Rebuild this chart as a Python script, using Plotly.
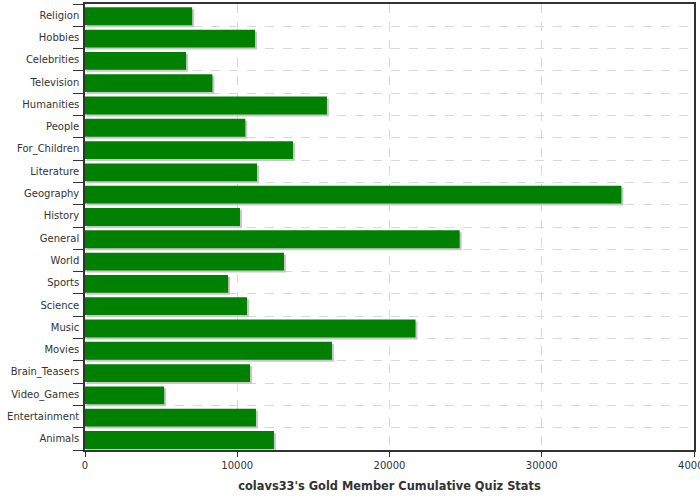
import plotly.graph_objects as go

categories = ["Religion", "Hobbies", "Celebrities", "Television", "Humanities", "People",
              "For_Children", "Literature", "Geography", "History", "General", "World",
              "Sports", "Science", "Music", "Movies", "Brain_Teasers", "Video_Games",
              "Entertainment", "Animals"]
values = [7040, 11170, 6640, 8370, 15890, 10530, 13660, 11300, 35230, 10180,
          24610, 13070, 9400, 10640, 21710, 16220, 10840, 5200, 11230, 12410]
x_ticks = [0, 10000, 20000, 30000, 40000]
chart_title = "colavs33's Gold Member Cumulative Quiz Stats"

# bottom-to-top order for plotly's y axis
cats = categories[::-1]
vals = values[::-1]

BAR_W = 0.8
BAR_SHIFT = 0.05          # bars sit slightly below the category centre
SHADOW_SHIFT_X = 130      # data units (~2px)
SHADOW_SHIFT_Y = 0.09     # category units (~2px)

fig = go.Figure()
fig.add_trace(go.Bar(
    y=cats, x=vals, base=SHADOW_SHIFT_X, orientation="h",
    width=BAR_W, offset=-BAR_W / 2 - BAR_SHIFT - SHADOW_SHIFT_Y,
    marker=dict(color="#c8c8c8", line=dict(width=0)),
    hoverinfo="skip", showlegend=False,
))
fig.add_trace(go.Bar(
    y=cats, x=vals, orientation="h",
    width=BAR_W, offset=-BAR_W / 2 - BAR_SHIFT,
    marker=dict(color="#008000", line=dict(width=0)),
    showlegend=False,
))

font_family = "DejaVu Sans, Verdana, sans-serif"
fig.update_layout(
    width=700, height=500,
    margin=dict(l=84.5, r=5.5, t=4, b=50, autoexpand=False),
    paper_bgcolor="white", plot_bgcolor="white",
    barmode="overlay",
    font=dict(family=font_family, size=10, color="#333333"),
    xaxis=dict(
        range=[0, 40000], tickvals=x_ticks, ticktext=[str(v) for v in x_ticks],
        ticklabeloverflow="allow", automargin=False,
        showgrid=True, gridcolor="#d3dadd", griddash="dash", gridwidth=1,
        showline=True, linecolor="#333333", linewidth=1.5, mirror=True,
        ticks="outside", ticklen=5, tickcolor="#333333",
        zeroline=False,
        title=dict(text="<b>" + chart_title + "</b>", font=dict(size=11.4, color="#333333"),
                   standoff=12),
    ),
    yaxis=dict(
        categoryorder="array", categoryarray=cats,
        range=[-0.5, len(cats) - 0.5],
        tickson="boundaries", automargin=False,
        showgrid=True, gridcolor="#d3dadd", griddash="dash", gridwidth=1,
        showline=True, linecolor="#333333", linewidth=1.5, mirror=True,
        ticks="outside", ticklen=10, tickcolor="#333333",
        ticklabelstandoff=2,
        zeroline=False,
    ),
)

fig.write_html("out.html")
